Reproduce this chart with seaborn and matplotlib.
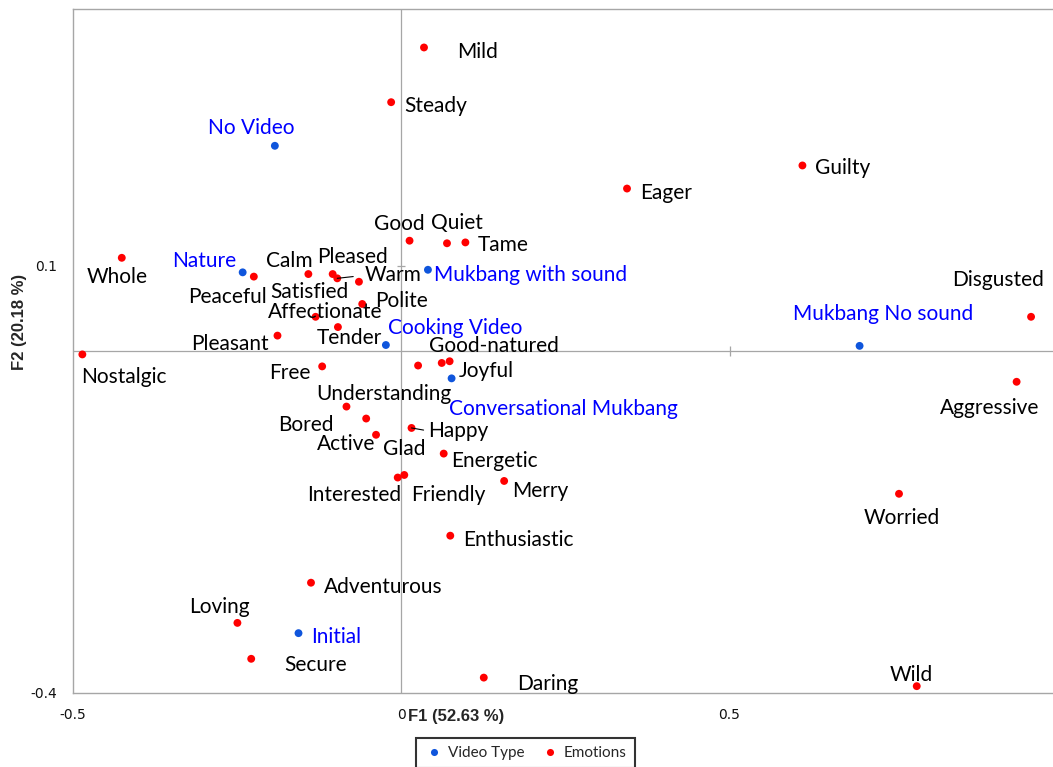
import numpy as np
import pandas as pd
import seaborn as sns
import matplotlib.pyplot as plt

# Video types (blue) and emotions (red), coordinates on F1 / F2
video_labels = ["No Video", "Nature", "Mukbang with sound", "Cooking Video",
                "Conversational Mukbang", "Mukbang No sound", "Initial"]
video_f1 = [-0.192, -0.241, 0.041, -0.023, 0.077, 0.698, -0.156]
video_f2 = [0.240, 0.092, 0.095, 0.007, -0.032, 0.006, -0.330]

emotion_labels = ["Mild", "Steady", "Guilty", "Eager", "Good", "Quiet", "Tame",
                  "Whole", "Calm", "Pleased", "Peaceful", "Warm", "Satisfied",
                  "Polite", "Affectionate", "Tender", "Pleasant", "Disgusted",
                  "Nostalgic", "Understanding", "Good-natured", "Joyful", "Free",
                  "Aggressive", "Bored", "Glad", "Active", "Happy", "Energetic",
                  "Interested", "Friendly", "Merry", "Worried", "Enthusiastic",
                  "Adventurous", "Loving", "Secure", "Daring", "Wild"]
emotion_f1 = [0.035, -0.015, 0.611, 0.344, 0.013, 0.070, 0.098,
              -0.425, -0.141, -0.104, -0.224, -0.097, -0.064,
              -0.059, -0.130, -0.096, -0.188, 0.959,
              -0.485, 0.026, 0.062, 0.074, -0.120,
              0.937, -0.083, -0.053, -0.038, 0.016, 0.065,
              -0.005, 0.005, 0.157, 0.758, 0.075,
              -0.137, -0.249, -0.228, 0.126, 0.785]
emotion_f2 = [0.355, 0.291, 0.217, 0.190, 0.129, 0.126, 0.127,
              0.109, 0.090, 0.090, 0.087, 0.085, 0.081,
              0.055, 0.040, 0.028, 0.018, 0.040,
              -0.004, -0.017, -0.014, -0.012, -0.018,
              -0.036, -0.065, -0.079, -0.098, -0.090, -0.120,
              -0.148, -0.145, -0.152, -0.167, -0.216,
              -0.271, -0.318, -0.360, -0.382, -0.392]

x_ticks = [-0.5, 0, 0.5]
x_tick_labels = ["-0.5", "0", "0.5"]
y_ticks = [-0.4, 0.1]
y_tick_labels = ["-0.4", "0.1"]

# label placement, in pixels from the point (left edge, vertical centre; +y is down)
label_offsets = {
    "No Video": (-67, -21), "Nature": (-71, -14), "Mukbang with sound": (6, 2),
    "Cooking Video": (2, -20), "Conversational Mukbang": (-3, 28),
    "Mukbang No sound": (-67, -35), "Initial": (13, 1),
    "Mild": (33, 2), "Steady": (13, 1), "Guilty": (13, 0), "Eager": (13, 1),
    "Good": (-36, -20), "Quiet": (-16, -23), "Tame": (12, 0), "Whole": (-35, 16),
    "Calm": (-42, -16), "Pleased": (-16, -20), "Peaceful": (-66, 17),
    "Warm": (27, -6), "Satisfied": (-89, 7), "Polite": (13, -6),
    "Affectionate": (-48, -8), "Tender": (-21, 8), "Pleasant": (-86, 5),
    "Disgusted": (-79, -40), "Nostalgic": (-1, 20), "Understanding": (-102, 25),
    "Good-natured": (-13, -20), "Joyful": (9, 7), "Free": (-53, 4),
    "Aggressive": (-77, 23), "Bored": (-68, 15), "Glad": (17, 27),
    "Active": (-59, 6), "Happy": (17, 0), "Energetic": (7, 4),
    "Interested": (-91, 14), "Friendly": (7, 17), "Merry": (8, 7),
    "Worried": (-35, 21), "Enthusiastic": (13, 1), "Adventurous": (13, 1),
    "Loving": (-48, -19), "Secure": (33, 3), "Daring": (33, 3), "Wild": (-27, -14),
}
leader_lines = {"Warm": 8, "Happy": 3.6}

df = pd.concat([
    pd.DataFrame({"label": video_labels, "F1": video_f1, "F2": video_f2, "group": "Video Type"}),
    pd.DataFrame({"label": emotion_labels, "F1": emotion_f1, "F2": emotion_f2, "group": "Emotions"}),
], ignore_index=True)

sns.set_style("white")
plt.rcParams["font.family"] = ["DejaVu Sans"]

W, H = 1053, 767
fig = plt.figure(figsize=(W / 100, H / 100), dpi=100)
# plot area: left 72.5px, top 9px, bottom 693px; x scale 657 px per unit
ax = fig.add_axes([72.5 / W, (H - 693) / H, 657 * 1.5 / W, 684 / H])

palette = {"Video Type": "#0F55DC", "Emotions": "#FF0000"}
sns.scatterplot(data=df, x="F1", y="F2", hue="group",
                hue_order=["Video Type", "Emotions"], palette=palette,
                s=32, edgecolor="none", ax=ax, legend=True, zorder=3)

ax.set_xlim(-0.5, 1.0)
ax.set_ylim(-0.4, 0.4)
ax.set_xticks(x_ticks)
ax.set_xticklabels(x_tick_labels)
ax.set_yticks(y_ticks)
ax.set_yticklabels(y_tick_labels)
ax.tick_params(length=0, pad=11, labelsize=10, labelcolor="#111111")

grey = "#A6A6A6"
for side in ["top", "left", "bottom"]:
    ax.spines[side].set_color(grey)
    ax.spines[side].set_linewidth(1.0)
ax.spines["right"].set_visible(False)

ax.axhline(0, color=grey, lw=0.9, zorder=1)
ax.axvline(0, color=grey, lw=0.9, zorder=1)
ax.vlines([t for t in x_ticks if t not in (0, -0.5)], -0.006, 0.006, color=grey, lw=0.9)
ax.hlines([t for t in y_ticks if t not in (0, -0.4)], -0.006, 0.006, color=grey, lw=0.9)

ax.set_xlabel("F1 (52.63 %)", family="Liberation Sans", fontweight="bold", fontsize=12)
ax.set_ylabel("F2 (20.18 %)", family="Liberation Sans", fontweight="bold", fontsize=12)
ax.xaxis.set_label_coords((456 - 72.5) / 985.5, (693 - 716) / 684)
ax.xaxis.label.set_verticalalignment("center")
ax.yaxis.set_label_coords((20 - 72.5) / 985.5, (693 - 322) / 684)
ax.yaxis.label.set_verticalalignment("center")

for _, row in df.iterrows():
    dx, dy = label_offsets[row["label"]]
    dy += 3
    color = "#0000FF" if row["group"] == "Video Type" else "black"
    arrow = None
    if row["label"] in leader_lines:
        arrow = dict(arrowstyle="-", color="black", lw=0.8, relpos=(0, 0.5),
                     shrinkA=leader_lines[row["label"]], shrinkB=0, patchA=None)
    ax.annotate(row["label"], xy=(row["F1"], row["F2"]),
                xytext=(dx * 0.72, -dy * 0.72), textcoords="offset points",
                ha="left", va="center", fontsize=15, family="Lato",
                color=color, arrowprops=arrow, zorder=4)

old = ax.get_legend()
handles = old.legend_handles
labels = [t.get_text() for t in old.get_texts()]
old.remove()
leg = fig.legend(handles, labels, loc="center",
                 bbox_to_anchor=(525.5 / W, 1 - 753 / H), ncol=2,
                 frameon=True, fancybox=False, edgecolor="black",
                 prop={"family": "Lato", "size": 11},
                 handlelength=1.2, handletextpad=0.3, columnspacing=1.05,
                 borderpad=0.55, markerscale=0.9)
leg.get_frame().set_linewidth(1.5)

fig.savefig("out.png", dpi=100)
